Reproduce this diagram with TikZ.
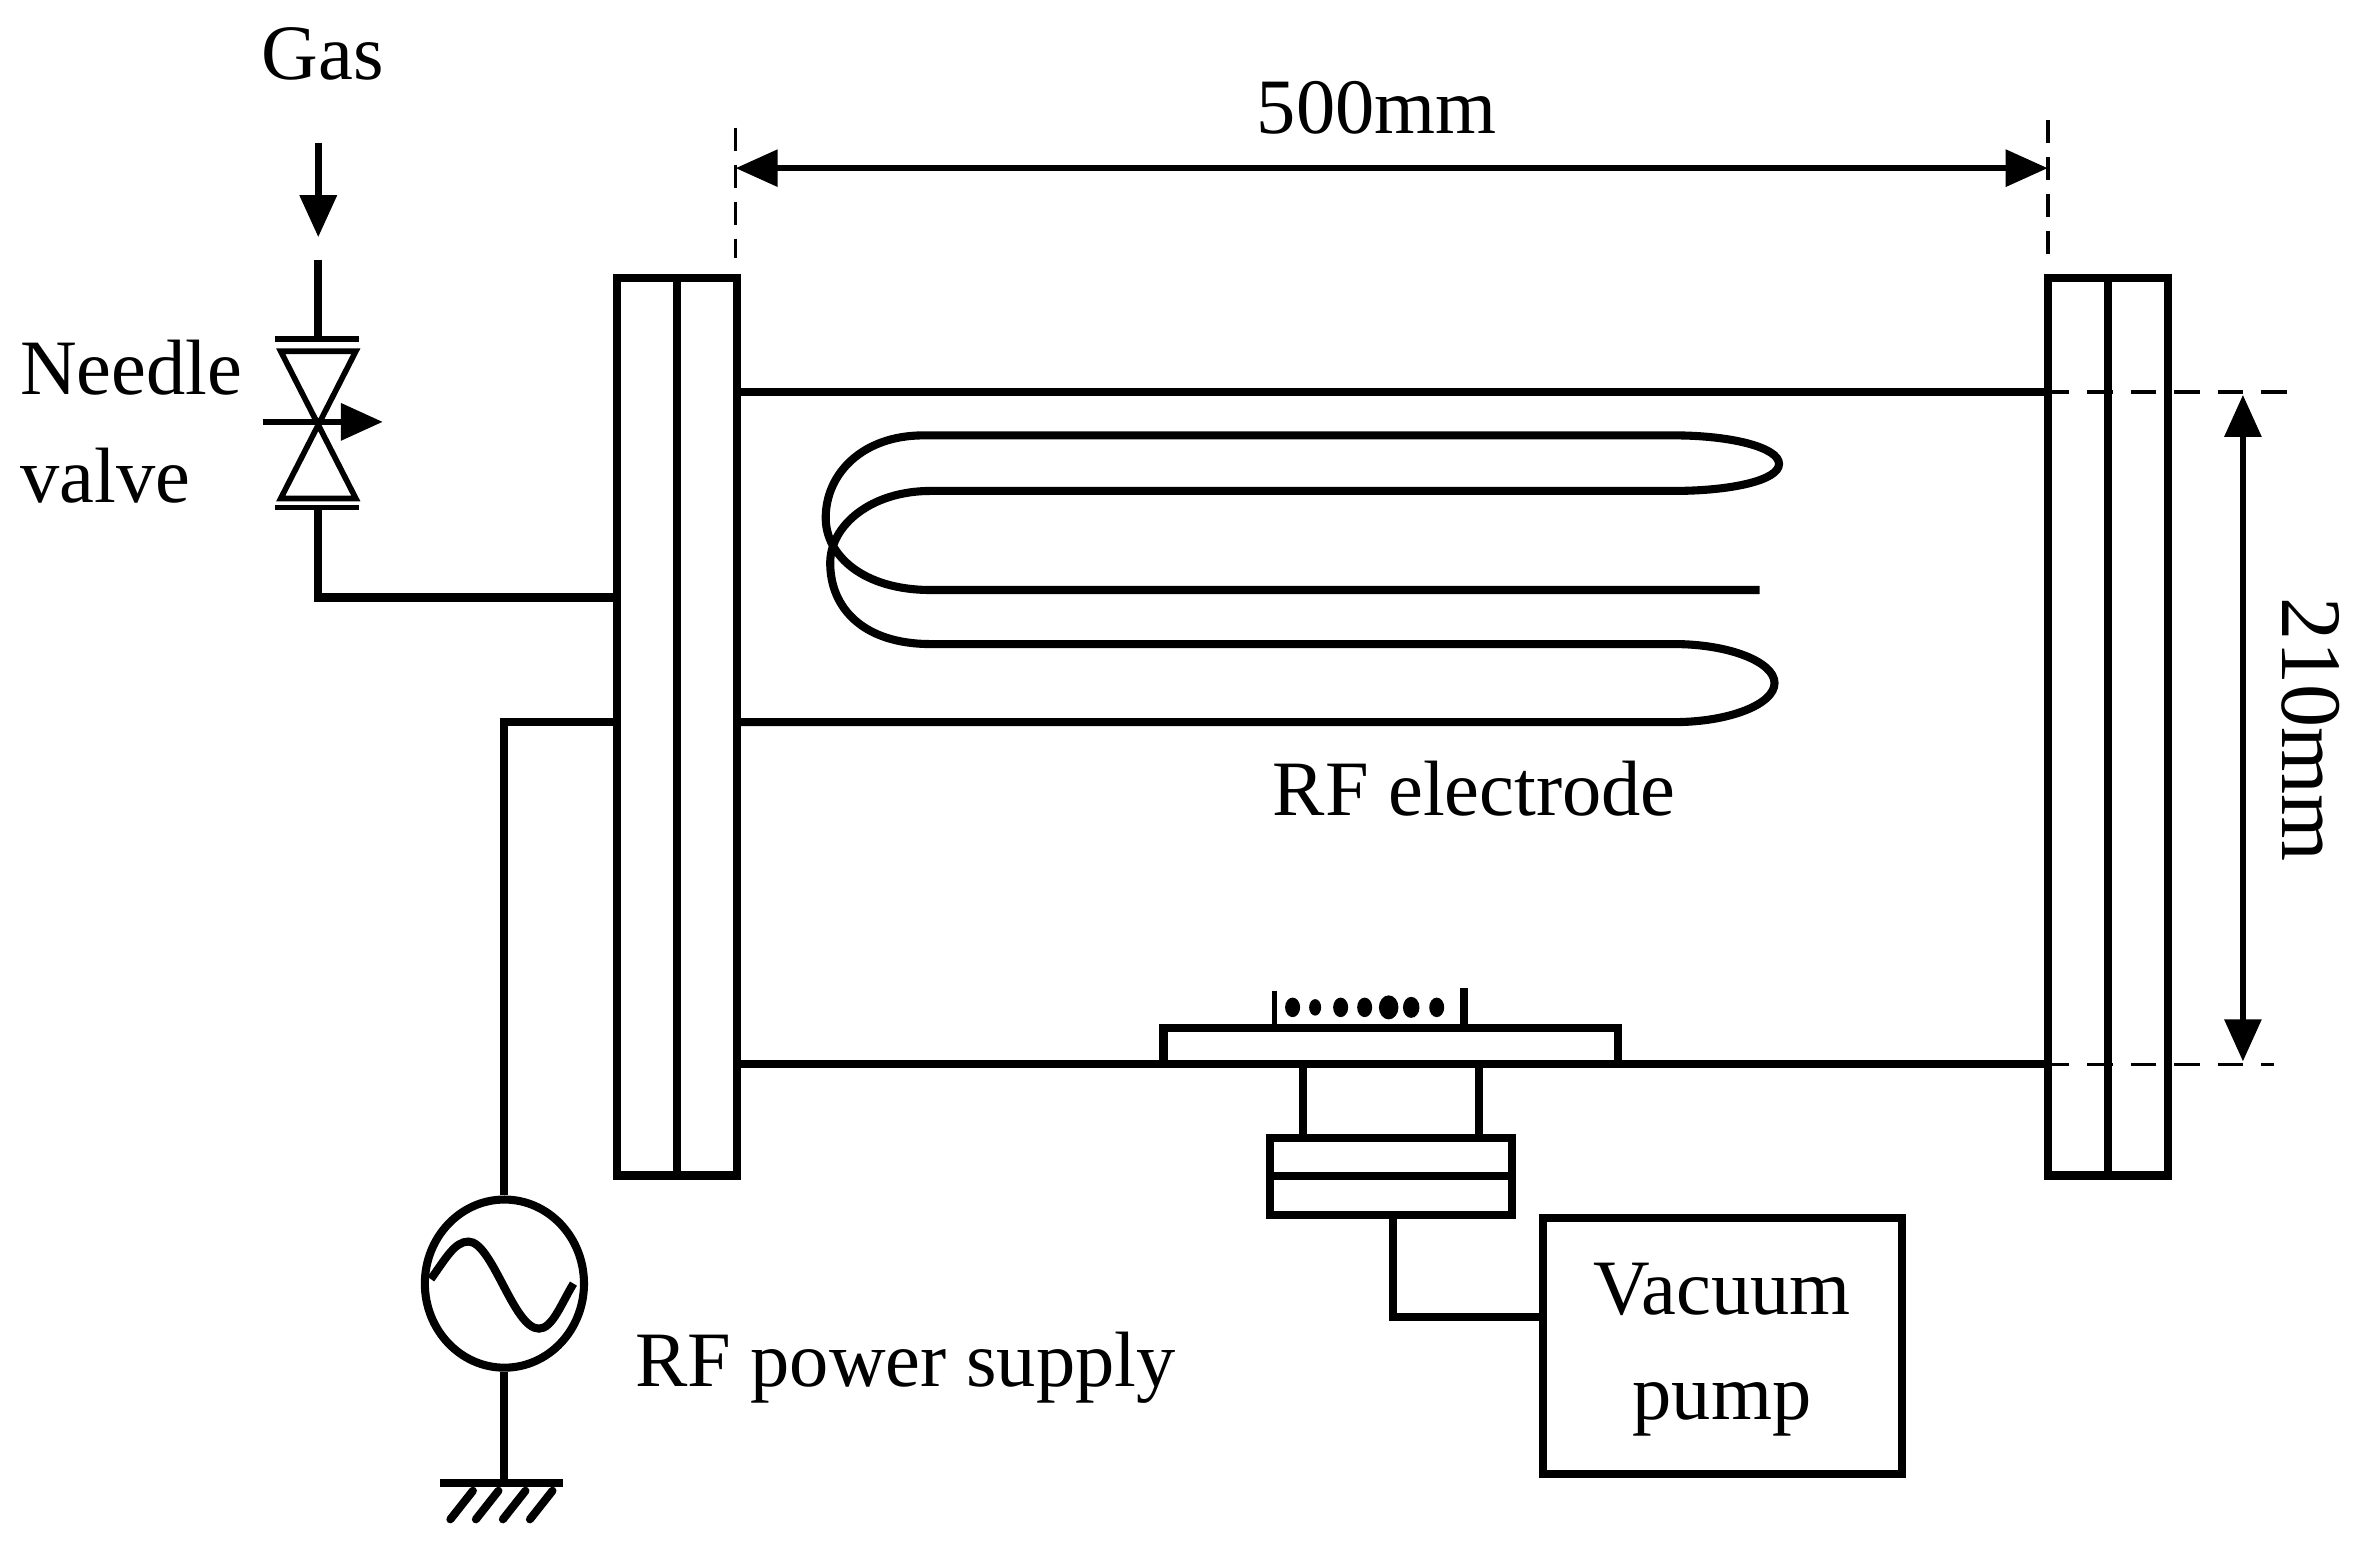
\documentclass[tikz,border=0pt]{standalone}
\usepackage{fontspec}
\setmainfont{Liberation Serif}
\usepackage{tikz}
\usetikzlibrary{arrows.meta,shapes.geometric}

\begin{document}
\begin{tikzpicture}[x=0.015cm,y=-0.015cm,
    wall/.style={line width=2.3pt},
    thinline/.style={line width=1.6pt},
    cutline/.style={line width=1pt,dash pattern=on 0.255cm off 0.18cm},
    flange/.style={draw,line width=2.3pt,rectangle,inner sep=0pt,minimum width=1.2cm,minimum height=8.97cm},
    dim/.style={line width=1.7pt,{Triangle[length=0.42cm,width=0.36cm]}-{Triangle[length=0.42cm,width=0.36cm]}},
    flow/.style={line width=1.9pt,-{Triangle[length=0.42cm,width=0.36cm]}},
    label/.style={font=\fontsize{22.3}{30}\selectfont,inner sep=0pt}]
  % page size
  \useasboundingbox (0,0) rectangle (1568,1027);

  % flanges at both ends of the chamber
  \foreach \name/\xpos in {flangeL/451,flangeR/1404} {
    \node[flange] (\name) at (\xpos,484) {};
    \draw[wall] (\name.north) -- (\name.south);
  }

  % chamber walls, continued as cut lines for the dimension
  \coordinate (topL) at (flangeL.east |- 0,261);
  \coordinate (topR) at (flangeR.west |- 0,261);
  \coordinate (lowL) at (flangeL.east |- 0,709);
  \coordinate (lowR) at (flangeR.west |- 0,709);
  \coordinate (feedL) at (flangeL.east |- 0,481);
  \draw[wall] (topL) -- (topR);
  \draw[wall] (lowL) -- (lowR);
  \draw[cutline] (topR) -- (1525,261);
  \draw[cutline] (lowR) -- (1515,709);

  % width 500mm
  \coordinate (widL) at (490,112);
  \coordinate (widR) at (1364,112);
  \draw[cutline,dash pattern=on 0.23cm off 0.14cm] (490,85) -- (490,172);
  \draw[cutline,dash pattern=on 0.23cm off 0.14cm] (1364,80) -- (1364,172);
  \draw[dim] (widL) -- (widR);
  \node[label] (width) at (917,72) {500mm};

  % height 210mm
  \coordinate (hgtT) at (1494,263);
  \coordinate (hgtB) at (1494,707);
  \draw[dim] (hgtT) -- (hgtB);
  \node[label,font=\fontsize{24.5}{30}\selectfont,rotate=-90] (height) at (1539,486) {210mm};

  % RF electrode
  \draw[wall] (feedL) -- (1115,481)
    .. controls (1152,481) and (1182,469) .. (1182,455)
    .. controls (1182,441) and (1152,429) .. (1115,429) -- (620,429)
    .. controls (575,429) and (553,405) .. (553,375)
    .. controls (553,350) and (580,327) .. (620,327) -- (1115,327)
    .. controls (1153,327) and (1185,320) .. (1185,309)
    .. controls (1185,298) and (1153,290) .. (1115,290) -- (615,290)
    .. controls (575,290) and (550,315) .. (550,345)
    .. controls (550,370) and (575,393) .. (620,393) -- (1172,393);
  \node[label] (electrode) at (982,525) {RF electrode};

  % gas line with needle valve
  \node[label] (gas) at (215,36) {Gas};
  \node[label,anchor=west] (needle) at (13,245) {Needle};
  \node[label,anchor=west] (valve) at (13,317) {valve};
  \coordinate (gasA) at (212,95);
  \coordinate (gasB) at (212,158);
  \draw[flow] (gasA) -- (gasB);
  \draw[wall] (212,173) -- (212,226);
  \draw[thinline] (183,226) -- (239,226);
  \draw[thinline] (183,338) -- (239,338);
  \draw[thinline] (187,234) -- (237,234) -- (187,332) -- (237,332) -- cycle;
  \draw[flow] (175,281) -- (255,281);
  \draw[wall] (212,339) |- (flangeL.west |- 0,398);

  % RF power supply
  \node[draw,ellipse,line width=2.3pt,inner sep=0pt,minimum width=1.59cm,minimum height=1.68cm] (source) at (336,855) {};
  \draw[wall] (source.north) |- (flangeL.west |- feedL);
  \draw[wall] (287,852) .. controls (297,838) and (303,827) .. (312,827)
    .. controls (328,827) and (342,885) .. (359,885)
    .. controls (368,885) and (374,868) .. (382,855);
  \node[label] (supply) at (603,911) {RF power supply};

  % ground
  \coordinate (gnd) at (336,988);
  \draw[wall] (source.south) -- (gnd);
  \draw[wall] (293,988) -- (375,988);
  \foreach \xpos in {315,332,350,368}
    \draw[wall,line cap=round] (\xpos,993) -- ++(-15,19);

  % stage, tray and particles
  \node[draw,wall,rectangle,inner sep=0pt,fill=white,minimum width=4.545cm,minimum height=0.36cm] (stage) at (926.5,697) {};
  \draw[thinline] (849,660) -- (849,685);
  \draw[wall] (975,658) -- (975,685);
  \foreach \xpos/\rad in {861/5,876/4,893/5,909/5,925/6.5,940/5.5,957/5}
    \fill (\xpos,671) ellipse ({\rad} and {\rad+1.5});

  % port below the stage
  \node[draw,wall,rectangle,inner sep=0pt,minimum width=2.415cm,minimum height=0.765cm] (port) at (926.5,783.5) {};
  \draw[wall] (port.west) -- (port.east);
  \draw[wall] (868,709) -- (868,758);
  \draw[wall] (985,709) -- (985,758);

  % vacuum pump
  \node[draw,wall,rectangle,inner sep=0pt,minimum width=3.585cm,minimum height=2.565cm] (pump) at (1147.5,896.5) {};
  \node[label,align=center] (pumptext) at (1147,899) {Vacuum\\pump};
  \draw[wall] (port.south -| 928,0) |- (pump.west |- 0,877);
\end{tikzpicture}
\end{document}
